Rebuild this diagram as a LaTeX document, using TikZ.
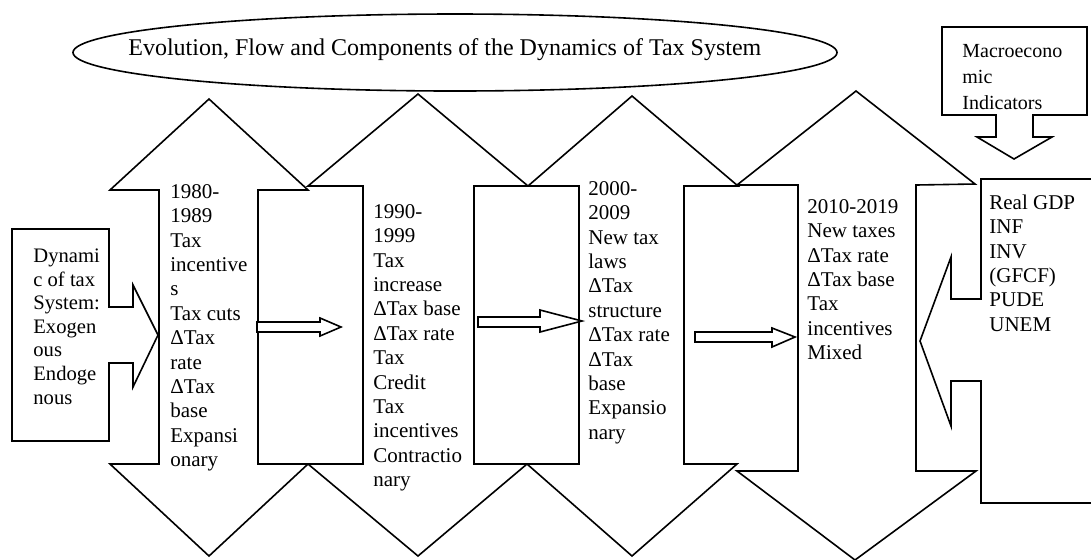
\documentclass[tikz,border=0pt]{standalone}
\usepackage{fontspec}
\setmainfont{Liberation Serif}
\usetikzlibrary{calc}

\tikzset{
	blk/.style={draw, line width=0.8pt, fill=white, line join=miter},
	txt/.style={anchor=north west, inner sep=0pt, align=left, font=\fontsize{10.5}{12.2}\selectfont},
}

\begin{document}
\begin{tikzpicture}[x=0.5pt, y=-0.5pt]
		\useasboundingbox (0,0) rectangle (1091,559);
		\fill[white] (0,0) rectangle (1091,559);

		\draw[line width=0.8pt] (455,52.5) ellipse [x radius=191pt, y radius=19.25pt];
		\node (title) [anchor=base west, inner sep=0pt, font=\fontsize{12}{14}\selectfont] at (128,55.7) {Evolution, Flow and Components of the Dynamics of Tax System};

		\coordinate (tipA) at (209,99);
		\coordinate (tipB) at (418,94);
		\coordinate (tipC) at (632,96);
		\coordinate (tipD) at (856,91);

		\draw[blk] (tipA) -- (308,190) -- (258,190) -- (258,464) -- (308,464) -- (209,556) -- (110,464) -- (159,464) -- (159,190) -- (110,190) -- cycle;
		\draw[blk] (tipB) -- (528,186) -- (474,186) -- (474,464) -- (527,464) -- (418,556) -- (308,464) -- (363,464) -- (363,186) -- (308,186) -- cycle;
		\draw[blk] (tipC) -- (738,186) -- (684,186) -- (684,464) -- (737,464) -- (632,556) -- (527,464) -- (579,464) -- (579,186) -- (528,186) -- cycle;
		\draw[blk] (tipD) -- (975,184) -- (916,185) -- (916,471) -- (976,471) -- (855,560) -- (737,471) -- (798,471) -- (798,185) -- (737,185) -- cycle;

		\draw[blk] (257,322) -- (320,322) -- (320,318) -- (341,327) -- (320,336) -- (320,332) -- (257,332) -- cycle;
		\draw[blk] (478,317) -- (540,317) -- (540,310) -- (582,321) -- (540,332) -- (540,327) -- (478,327) -- cycle;
		\draw[blk] (695,332) -- (772,332) -- (772,328) -- (795,337) -- (772,347) -- (772,342) -- (695,342) -- cycle;

		\draw[blk] (12,229) -- (109,229) -- (109,307) -- (133,307) -- (133,285) -- (158,335) -- (133,387) -- (133,363) -- (109,363) -- (109,441) -- (12,441) -- cycle;
		\draw[blk] (1100,179) -- (981,179) -- (981,299) -- (951,299) -- (951,257) -- (920,341) -- (951,426) -- (951,381) -- (981,381) -- (981,503) -- (1100,503) -- cycle;
		\draw[blk] (942,27) -- (1087,27) -- (1087,115) -- (1033,115) -- (1033,137) -- (1052,137) -- (1014,159) -- (977,137) -- (996,137) -- (996,115) -- (942,115) -- cycle;

		\node (dyn) [txt, font=\fontsize{10.3}{11.8}\selectfont] at (33,245.5) {\strut Dynami\\c of tax\\System:\\Exogen\\ous\\Endoge\\nous};
		\node (p80) [txt] at (170,180.9) {\strut 1980-\\1989\\Tax\\incentive\\s\\Tax cuts\\ΔTax\\rate\\ΔTax\\base\\Expansi\\onary};
		\node (p90) [txt] at (373,200.9) {\strut 1990-\\1999\\Tax\\increase\\ΔTax base\\ΔTax rate\\Tax\\Credit\\Tax\\incentives\\Contractio\\nary};
		\node (p00) [txt] at (588,177.9) {\strut 2000-\\2009\\New tax\\laws\\ΔTax\\structure\\ΔTax rate\\ΔTax\\base\\Expansio\\nary};
		\node (p10) [txt] at (807,195.9) {\strut 2010-2019\\New taxes\\ΔTax rate\\ΔTax base\\Tax\\incentives\\Mixed};
		\node (ind) [txt] at (989,191.9) {\strut Real GDP\\INF\\INV\\(GFCF)\\PUDE\\UNEM};
		\node (macro) [txt, font=\fontsize{10}{13}\selectfont] at (962,38.8) {\strut Macroecono\\mic\\Indicators};
\end{tikzpicture}
\end{document}
